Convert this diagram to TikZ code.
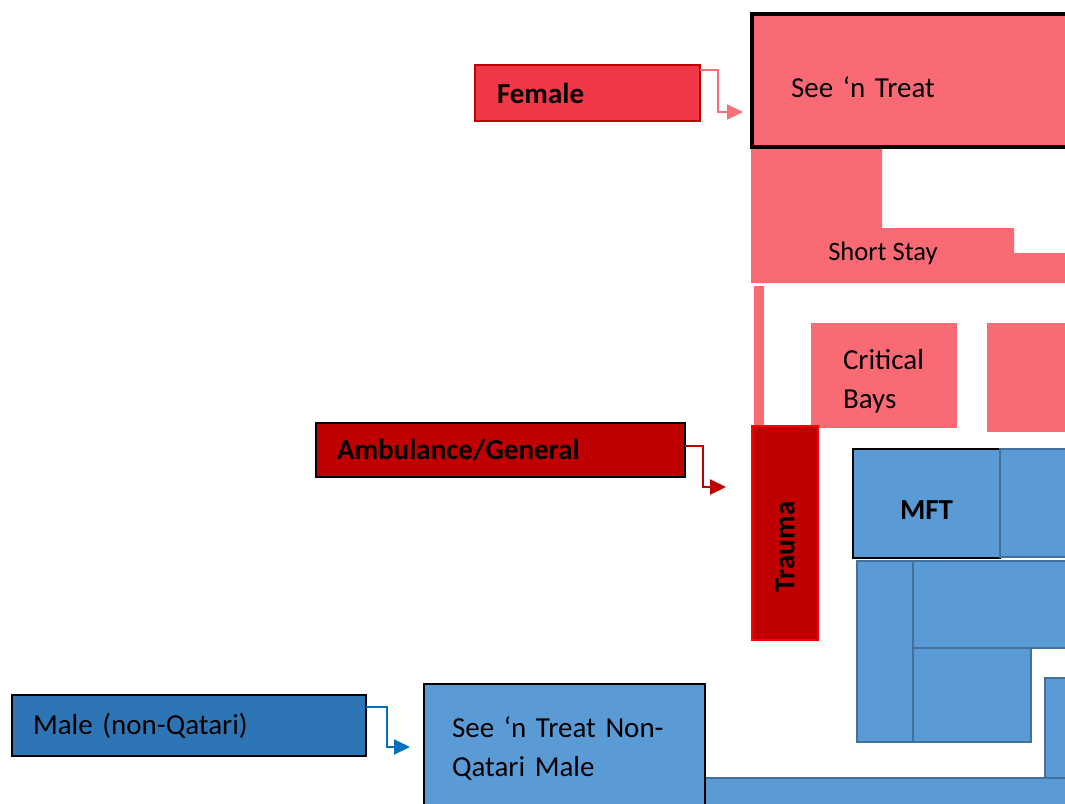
\documentclass[tikz,border=0pt]{standalone}
\usepackage{fontspec}
\setmainfont{Carlito}
\usetikzlibrary{arrows.meta}

\definecolor{zonepink}{RGB}{249,106,116}
\definecolor{femalered}{RGB}{240,56,72}
\definecolor{darkred}{RGB}{192,0,0}
\definecolor{brightred}{RGB}{255,0,0}
\definecolor{zoneblue}{RGB}{91,155,213}
\definecolor{roomedge}{RGB}{65,113,156}
\definecolor{maleblue}{RGB}{46,117,182}
\definecolor{arrowblue}{RGB}{0,112,192}
\definecolor{arrowpink}{RGB}{250,110,120}

\begin{document}
\begin{tikzpicture}[
    x=0.5pt, y=-0.5pt,
    every node/.style={font=\fontsize{14.5}{19.5}\selectfont, inner sep=0pt, outer sep=0pt},
    wh/.style 2 args={minimum width=#1*0.5pt, minimum height=#2*0.5pt},
    pinkroom/.style={fill=zonepink, draw=none, anchor=north west},
    blueroom/.style={fill=zoneblue, draw=roomedge, line width=0.8pt, anchor=north west},
    tag/.style={anchor=north west, line width=0.75pt, align=left},
    flow/.style={line width=1pt, -{Triangle[length=8pt, width=7.5pt]}}
]
\useasboundingbox (0,0) rectangle (1065,803);

% pink zone (female side)
\fill[zonepink] (751,147) -| (882,228) -| (1014,253) -| (1075,283) -| (751,147) -- cycle;
\node[font=\fontsize{13.3}{16}\selectfont] (shortstay) at (883,253) {Short Stay};
\node[pinkroom, draw=black, line width=2pt, wh={323}{133}, inner xsep=19.5pt, text width=122.5pt,
    text height=16.5pt, text depth=0pt] (seentreat) at (752,14) {See ‘n Treat};
\fill[zonepink] (754,286) rectangle (764,425);
\node[pinkroom, wh={146}{105}, inner xsep=16pt, text width=41pt, align=left,
    text height=13pt, text depth=19.5pt] (critical) at (811,323) {Critical\\Bays};
\node[pinkroom, wh={88}{109}] (pinkbay) at (987,323) {};

% trauma
\node[fill=darkred, draw=brightred, line width=0.8pt, rotate=90, wh={214}{66}, inner xsep=24pt, text width=59pt,
    align=left, font=\fontsize{14.5}{19.5}\selectfont\bfseries] (trauma) at (785,533) {Trauma};

% blue zone (male side)
\node[blueroom, draw=black, line width=1pt, wh={147}{109}, text height=15.5pt, text depth=0pt,
    font=\fontsize{14.5}{19.5}\selectfont\bfseries] (mft) at (853,449) {MFT};
\node[blueroom, wh={75}{108}] (mftside) at (1000,449) {};
\node[blueroom, wh={56}{181}] (bayA) at (857,561) {};
\node[blueroom, wh={162}{87}] (bayB) at (913,561) {};
\node[blueroom, wh={118}{94}] (bayC) at (913,648) {};
\node[blueroom, wh={30}{100}] (bayD) at (1045,678) {};
\node[blueroom, wh={370}{40}] (corridor) at (705,778) {};
\node[blueroom, draw=black, line width=1pt, wh={281}{128}, inner xsep=14pt, text width=112.5pt, align=left]
    (nqmale) at (424,684) {See ‘n Treat Non-\\Qatari Male};

% entrance tags
\node[tag, fill=femalered, draw=darkred, wh={225}{56}, inner xsep=11pt, text width=90.5pt,
    font=\fontsize{14.5}{19.5}\selectfont\bfseries] (female) at (475,65) {Female};
\node[tag, fill=darkred, draw=black, wh={369}{54}, inner xsep=10.5pt, text width=163.5pt,
    font=\fontsize{14.5}{19.5}\selectfont\bfseries] (ambulance) at (316,423) {Ambulance/General};
\node[tag, fill=maleblue, draw=black, wh={354}{61}, inner xsep=10.5pt, text width=156pt] (male) at (12,695) {Male (non-Qatari)};

\coordinate (femaleIn) at (743,112);
\coordinate (ambulanceIn) at (726,487);
\coordinate (maleIn) at (410,747);

\draw[flow, arrowpink] ([yshift=-2.5pt]female.north east) -- ++(18,0) |- (femaleIn);
\draw[flow, darkred] ([yshift=-11.5pt]ambulance.north east) -- ++(18,0) |- (ambulanceIn);
\draw[flow, arrowblue] ([yshift=-6pt]male.north east) -- ++(21,0) |- (maleIn);
\end{tikzpicture}
\end{document}
